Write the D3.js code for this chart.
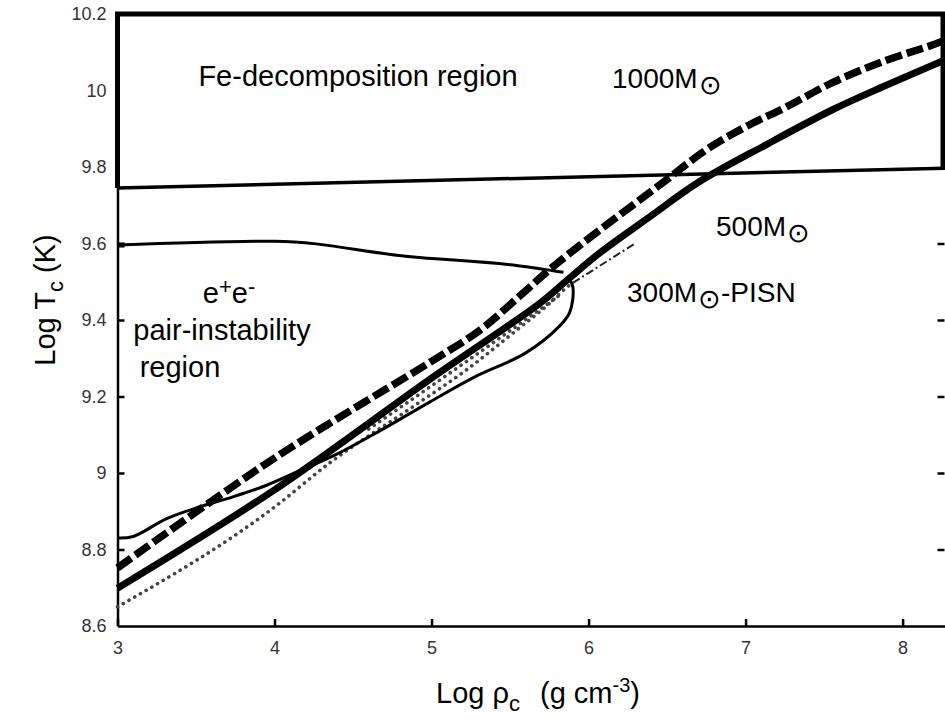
<!DOCTYPE html>
<html>
<head>
<meta charset="utf-8">
<script src="https://cdn.jsdelivr.net/npm/d3@7"></script>
<style>
  body { margin: 0; background: #fff; }
  svg text { font-family: "Liberation Sans", Arial, Helvetica, sans-serif; }
</style>
</head>
<body>
<div id="main"></div>
<script>
// values: log rho_c (x) and log T_c (y)
var track1000 = [[3.0, 8.752], [4.0, 9.039], [5.0, 9.292], [5.31, 9.374], [5.56, 9.462], [5.77, 9.538], [6.07, 9.635],
  [6.45, 9.752], [6.75, 9.845], [7.0, 9.905], [7.26, 9.957], [7.55, 10.020], [7.87, 10.075], [8.19, 10.119], [8.27, 10.132]];
var track500 = [[3.0, 8.699], [4.0, 8.956], [5.0, 9.248], [5.69, 9.444], [5.86, 9.503], [6.07, 9.575], [6.39, 9.670],
  [6.70, 9.760], [7.13, 9.858], [7.55, 9.949], [7.87, 10.009], [8.27, 10.080]];
var track300dot = [[3.0, 8.650], [4.0, 8.911], [4.35, 9.026], [4.88, 9.173], [5.22, 9.269], [5.54, 9.373],
  [5.75, 9.443], [5.86, 9.485], [5.9, 9.497]];
var track300dot2 = [[4.6, 9.115], [5.0, 9.228], [5.5, 9.372], [5.82, 9.466]];
var track300tail = [[5.9, 9.497], [6.3, 9.601]];
var track300 = [[3.0, 8.830], [3.10, 8.834], [3.31, 8.880], [3.52, 8.911], [3.73, 8.937], [3.95, 8.968], [4.16, 9.006],
  [4.40, 9.050], [4.67, 9.110], [4.99, 9.186], [5.27, 9.250], [5.60, 9.314], [5.81, 9.382],
  [5.88, 9.420], [5.90, 9.486], [5.87, 9.512]];
var pairLine = [[3.0, 9.596], [4.0, 9.606], [4.85, 9.566], [5.55, 9.542], [5.84, 9.525]];
var feLine = [[3.0, 9.745], [8.27, 9.797]];
var xTicks = [3, 4, 5, 6, 7, 8];
var yTicks = [8.6, 8.8, 9, 9.2, 9.4, 9.6, 9.8, 10, 10.2];

var width = 945, height = 721;
var svg = d3.select("#main").append("svg")
  .attr("width", width)
  .attr("height", height);

var x = d3.scaleLinear().domain([3, 8.27]).range([117.5, 945]);
var y = d3.scaleLinear().domain([8.6, 10.2]).range([626, 14]);

var line = d3.line()
  .x(function(d) { return x(d[0]); })
  .y(function(d) { return y(d[1]); })
  .curve(d3.curveMonotoneX);
var lineFree = d3.line()
  .x(function(d) { return x(d[0]); })
  .y(function(d) { return y(d[1]); })
  .curve(d3.curveCatmullRom);

// axes
var xAxis = d3.axisBottom(x).tickValues(xTicks).tickSizeInner(-7).tickSizeOuter(0).tickPadding(15)
  .tickFormat(d3.format("d"));
var gx = svg.append("g").attr("transform", "translate(0," + y(8.6) + ")").call(xAxis);
var yAxis = d3.axisLeft(y).tickValues(yTicks).tickSizeInner(-7).tickSizeOuter(0).tickPadding(11)
  .tickFormat(function(d) { return String(d); });
var gy = svg.append("g").attr("transform", "translate(" + x(3) + ",0)").call(yAxis);
var gr = svg.append("g").attr("transform", "translate(" + (width - 0.5) + ",0)")
  .call(d3.axisRight(y).tickValues(yTicks.filter(function(d) { return d > 8.7 && d < 9.7; })).tickSizeInner(-7).tickSizeOuter(0).tickFormat(""));
gr.select(".domain").remove();
gy.selectAll(".tick line").filter(function(d) { return d >= 9.7 || d < 8.7; }).remove();
[gx, gy, gr].forEach(function(g) {
  g.select(".domain").attr("stroke", "#000").attr("stroke-width", 2.5);
  g.selectAll(".tick line").attr("stroke", "#000").attr("stroke-width", 2.5);
  g.selectAll(".tick text").attr("fill", "#333").style("font-size", "18px");
});

// Fe-decomposition box
svg.append("path")
  .attr("d", "M" + x(3) + "," + y(9.745) + "V" + y(10.2) + "H" + (x(8.27) - 2) + "V" + y(9.797))
  .attr("fill", "none").attr("stroke", "#000").attr("stroke-width", 5);
svg.append("path").datum(feLine).attr("d", line)
  .attr("fill", "none").attr("stroke", "#000").attr("stroke-width", 3.5);

// pair-instability boundary
svg.append("path").datum(pairLine).attr("d", line)
  .attr("fill", "none").attr("stroke", "#000").attr("stroke-width", 3);
svg.append("line").attr("x1", x(3)).attr("x2", x(3) + 7).attr("y1", y(9.596)).attr("y2", y(9.596))
  .attr("stroke", "#000").attr("stroke-width", 5);

// tracks
[track300dot, track300dot2].forEach(function(t) {
  svg.append("path").datum(t).attr("d", line)
    .attr("fill", "none").attr("stroke", "#444").attr("stroke-width", 3.6)
    .attr("stroke-dasharray", "0.1,6.5").attr("stroke-linecap", "round");
});
svg.append("path").datum(track300tail).attr("d", line)
  .attr("fill", "none").attr("stroke", "#222").attr("stroke-width", 2)
  .attr("stroke-dasharray", "8,3,2,3");
svg.append("path").datum(track300).attr("d", lineFree)
  .attr("fill", "none").attr("stroke", "#000").attr("stroke-width", 3);
svg.append("path").datum(track500).attr("d", lineFree)
  .attr("fill", "none").attr("stroke", "#000").attr("stroke-width", 7);
svg.append("path").datum(track1000).attr("d", lineFree)
  .attr("fill", "none").attr("stroke", "#000").attr("stroke-width", 7.5)
  .attr("stroke-dasharray", "17,5");

// labels
svg.append("text").attr("x", 358).attr("y", 86).attr("text-anchor", "middle")
  .style("font-size", "29px").text("Fe-decomposition region");

function massLabel(px, py, txt, tail) {
  var t = svg.append("text").attr("x", px).attr("y", py).style("font-size", "28px");
  t.append("tspan").text(txt);
  t.append("tspan").attr("dy", 6).attr("dx", 1).style("font-size", "27px").text("\u2299");
  if (tail) t.append("tspan").attr("dy", -6).text(tail);
}
massLabel(612, 88, "1000M");
massLabel(716, 236, "500M");
massLabel(627, 302, "300M", "-PISN");

var ee = svg.append("text").attr("x", 229).attr("y", 303).attr("text-anchor", "middle").style("font-size", "29px");
ee.append("tspan").text("e");
ee.append("tspan").attr("dy", -9).style("font-size", "22px").text("+");
ee.append("tspan").attr("dy", 9).text("e");
ee.append("tspan").attr("dy", -9).style("font-size", "22px").text("-");
svg.append("text").attr("x", 222).attr("y", 340).attr("text-anchor", "middle")
  .style("font-size", "29px").text("pair-instability");
svg.append("text").attr("x", 180).attr("y", 377).attr("text-anchor", "middle")
  .style("font-size", "29px").text("region");

// axis titles
var yl = svg.append("text").attr("transform", "translate(55,300) rotate(-90)")
  .attr("text-anchor", "middle").style("font-size", "29px");
yl.append("tspan").text("Log T");
yl.append("tspan").attr("dy", 8).style("font-size", "22px").text("c");
yl.append("tspan").attr("dy", -8).text(" (K)");

var xl = svg.append("text").attr("x", 538).attr("y", 703)
  .attr("text-anchor", "middle").style("font-size", "29px");
xl.append("tspan").text("Log \u03c1");
xl.append("tspan").attr("dy", 8).style("font-size", "22px").text("c");
xl.append("tspan").attr("dy", -8).attr("dx", 12).text(" (g cm");
xl.append("tspan").attr("dy", -11).style("font-size", "20px").text("-3");
xl.append("tspan").attr("dy", 11).text(")");
</script>
</body>
</html>
